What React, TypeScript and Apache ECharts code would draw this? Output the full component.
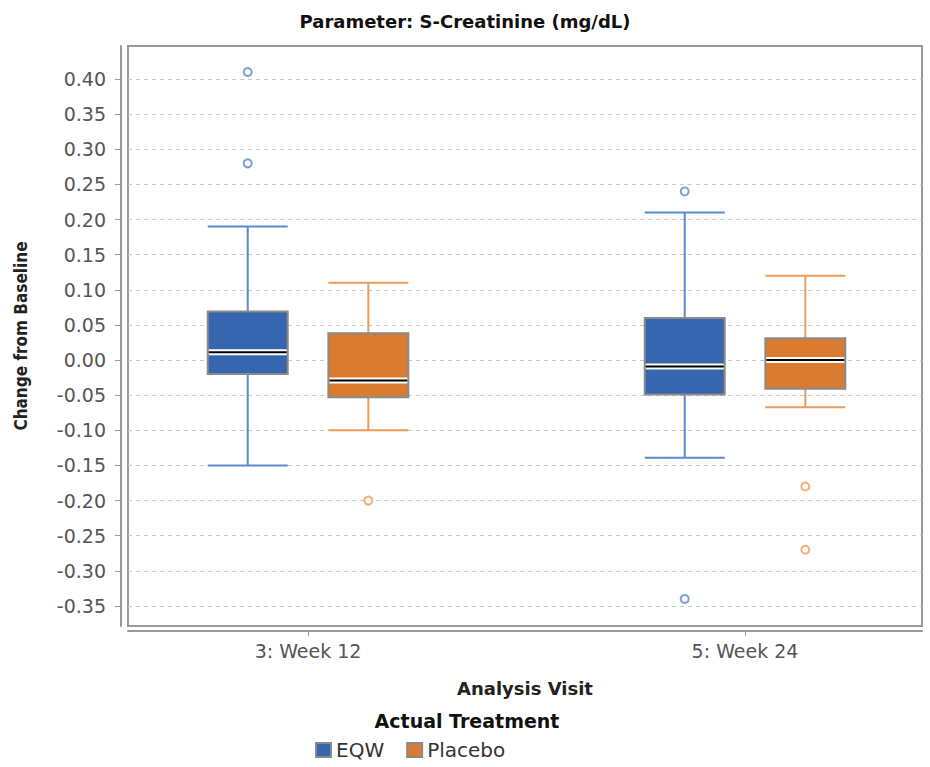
import React, { useEffect, useRef } from "react";
import * as echarts from "echarts";

// ---- data ----
const categories = ["3: Week 12", "5: Week 24"];
const seriesNames = ["EQW", "Placebo"];
// [min, Q1, median, Q3, max] per category
const eqwStats = [
  [-0.15, -0.02, 0.011, 0.069, 0.19],
  [-0.139, -0.049, -0.009, 0.06, 0.21],
];
const placeboStats = [
  [-0.1, -0.053, -0.029, 0.038, 0.11],
  [-0.067, -0.041, 0.0, 0.031, 0.12],
];
// outliers per category
const eqwOutliers = [
  [0.41, 0.28],
  [0.24, -0.34],
];
const placeboOutliers = [
  [-0.2],
  [-0.18, -0.27],
];
const yTicks = [-0.35, -0.3, -0.25, -0.2, -0.15, -0.1, -0.05, 0, 0.05, 0.1, 0.15, 0.2, 0.25, 0.3, 0.35, 0.4];
const xTicks = [1, 2];

// ---- layout / style ----
const X_MIN = 0.588;
const X_MAX = 2.405;
const Y_MIN = -0.3785;
const Y_MAX = 0.447;
const OFFSET = 0.138; // series offset within a category (x units)
const HALF = 0.0915; // half box width (x units)

const FILL = ["#3766b0", "#d97b30"];
const LINE = ["#5a8ad0", "#ee9a58"];

const CONDENSED = "'DejaVu Sans Condensed', 'Liberation Sans Narrow', sans-serif";
const BOLDFONT = "'DejaVu Sans', Verdana, sans-serif";
const TICKFONT = "'DejaVu Sans', Verdana, sans-serif";

function makeBoxData(stats: number[][], off: number) {
  return stats.map((s, i) => [i + 1 + off, ...s]);
}
function makeOutlierData(out: number[][], off: number) {
  const res: number[][] = [];
  out.forEach((vals, i) => vals.forEach((v) => res.push([i + 1 + off, v])));
  return res;
}

function boxRenderer(idx: number) {
  return (params: any, api: any) => {
    const x = api.value(0);
    const vMin = api.value(1);
    const vQ1 = api.value(2);
    const vMed = api.value(3);
    const vQ3 = api.value(4);
    const vMax = api.value(5);
    const pMin = api.coord([x - HALF, vMin]);
    const pMaxR = api.coord([x + HALF, vMax]);
    const cx = api.coord([x, vMin])[0];
    const xl = pMin[0];
    const xr = pMaxR[0];
    const yMin = pMin[1];
    const yMax = pMaxR[1];
    const yQ1 = api.coord([x, vQ1])[1];
    const yQ3 = api.coord([x, vQ3])[1];
    const yMed = api.coord([x, vMed])[1];
    const lineStyle = { stroke: LINE[idx], lineWidth: 2 };
    return {
      type: "group",
      children: [
        { type: "line", shape: { x1: cx, y1: yMax, x2: cx, y2: yQ3 }, style: lineStyle },
        { type: "line", shape: { x1: cx, y1: yQ1, x2: cx, y2: yMin }, style: lineStyle },
        { type: "line", shape: { x1: xl, y1: yMax, x2: xr, y2: yMax }, style: lineStyle },
        { type: "line", shape: { x1: xl, y1: yMin, x2: xr, y2: yMin }, style: lineStyle },
        {
          type: "rect",
          shape: { x: xl, y: yQ3, width: xr - xl, height: yQ1 - yQ3 },
          style: { fill: FILL[idx], stroke: "#8a8a8a", lineWidth: 2 },
        },
        {
          type: "rect",
          shape: { x: xl + 1, y: yMed - 3, width: xr - xl - 2, height: 6 },
          style: { fill: "#ffffff" },
        },
        {
          type: "line",
          shape: { x1: xl + 1, y1: yMed, x2: xr - 1, y2: yMed },
          style: { stroke: "#000000", lineWidth: 2 },
        },
      ],
    };
  };
}

export default function App() {
  const ref = useRef<HTMLDivElement>(null);
  useEffect(() => {
    if (!ref.current) return;
    const chart = echarts.init(ref.current, null, { renderer: "svg" });
    const option: any = {
      animation: false,
      backgroundColor: "#ffffff",
      title: {
        text: "Parameter: S-Creatinine (mg/dL)",
        left: "center",
        top: 7,
        textStyle: { fontSize: 18, fontWeight: "bold", fontFamily: BOLDFONT, color: "#111" },
      },
      grid: {
        left: 128,
        top: 46,
        width: 794,
        height: 580,
        show: true,
        borderColor: "#999",
        borderWidth: 2,
        backgroundColor: "#ffffff",
      },
      legend: {
        data: [
          { name: seriesNames[0], icon: "rect" },
          { name: seriesNames[1], icon: "rect" },
        ],
        left: 315,
        top: 740,
        padding: 0,
        itemWidth: 15,
        itemHeight: 14,
        itemGap: 22,
        textStyle: { fontSize: 20, color: "#333", fontFamily: TICKFONT },
      },
      graphic: [
        {
          type: "text",
          x: 467,
          y: 721,
          style: {
            text: "Actual Treatment",
            fontSize: 19,
            fontWeight: "bold",
            fontFamily: BOLDFONT,
            fill: "#111",
            textAlign: "center",
            textVerticalAlign: "middle",
          },
        },
      ],
      xAxis: {
        type: "value",
        min: X_MIN,
        max: X_MAX,
        offset: 5,
        axisLine: { show: true, onZero: false, lineStyle: { color: "#999", width: 2 } },
        axisTick: { show: true, customValues: xTicks, length: 5, lineStyle: { color: "#999" } },
        axisLabel: {
          customValues: xTicks,
          formatter: (v: number) => categories[Math.round(v) - 1] ?? "",
          color: "#555",
          fontSize: 19,
          fontFamily: TICKFONT,
          margin: 10,
        },
        splitLine: { show: false },
        name: "Analysis Visit",
        nameLocation: "middle",
        nameGap: 48,
        nameTextStyle: { fontSize: 18, fontWeight: "bold", fontFamily: BOLDFONT, color: "#222" },
      },
      yAxis: {
        type: "value",
        min: Y_MIN,
        max: Y_MAX,
        offset: 7,
        axisLine: { show: true, onZero: false, lineStyle: { color: "#999", width: 2 } },
        axisTick: { show: true, customValues: yTicks, length: 6, lineStyle: { color: "#999" } },
        axisLabel: {
          customValues: yTicks,
          formatter: (v: number) => v.toFixed(2),
          color: "#555",
          fontSize: 19,
          fontFamily: TICKFONT,
          margin: 15,
        },
        splitLine: { show: true, lineStyle: { color: "#c8c8c8", type: [4, 4], width: 1 } },
        name: "Change from Baseline",
        nameLocation: "middle",
        nameGap: 92,
        nameRotate: 90,
        nameTextStyle: { fontSize: 17, fontWeight: "bold", fontFamily: CONDENSED, color: "#222" },
      },
      series: [
        {
          name: seriesNames[0],
          type: "custom",
          renderItem: boxRenderer(0),
          encode: { x: 0, y: [1, 2, 3, 4, 5] },
          itemStyle: { color: FILL[0], borderColor: "#8a8a8a", borderWidth: 1 },
          data: makeBoxData(eqwStats, -OFFSET),
          z: 3,
        },
        {
          name: seriesNames[1],
          type: "custom",
          renderItem: boxRenderer(1),
          encode: { x: 0, y: [1, 2, 3, 4, 5] },
          itemStyle: { color: FILL[1], borderColor: "#8a8a8a", borderWidth: 1 },
          data: makeBoxData(placeboStats, OFFSET),
          z: 3,
        },
        {
          name: "EQW outliers",
          type: "scatter",
          symbol: "circle",
          symbolSize: 8,
          itemStyle: { color: "#ffffff", borderColor: LINE[0], borderWidth: 2 },
          data: makeOutlierData(eqwOutliers, -OFFSET),
          z: 4,
        },
        {
          name: "Placebo outliers",
          type: "scatter",
          symbol: "circle",
          symbolSize: 8,
          itemStyle: { color: "#ffffff", borderColor: LINE[1], borderWidth: 2 },
          data: makeOutlierData(placeboOutliers, OFFSET),
          z: 4,
        },
      ],
    };
    chart.setOption(option);
    return () => chart.dispose();
  }, []);
  return (
    <div
      ref={ref}
      style={{ position: "absolute", left: 0, top: 0, width: 930, height: 767, background: "#fff" }}
    />
  );
}
